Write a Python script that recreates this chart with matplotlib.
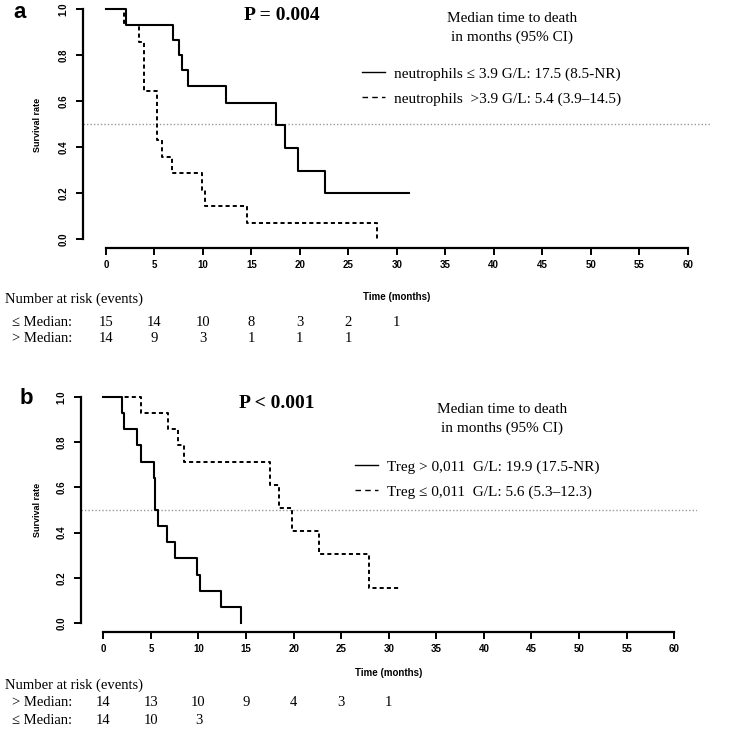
import matplotlib
matplotlib.use("Agg")
import matplotlib.pyplot as plt
from matplotlib.lines import Line2D
from matplotlib.transforms import blended_transform_factory

W, H = 750, 741

# ---- data ----
# panel a: neutrophils
a_low_t = [0, 2.1, 6.9, 7.5, 7.8, 8.5, 12.4, 17.5, 18.5, 19.8, 22.6, 31.3]
a_low_s = [1.0, 0.933, 0.867, 0.8, 0.733, 0.667, 0.593, 0.494, 0.395, 0.296, 0.198, 0.198]
a_high_t = [0, 1.9, 3.4, 3.9, 5.3, 5.8, 6.8, 9.9, 10.2, 14.5, 28.0]
a_high_s = [1.0, 0.929, 0.857, 0.643, 0.429, 0.357, 0.286, 0.214, 0.143, 0.071, 0.0]

# panel b: Treg
b_high_t = [0, 1.93, 2.17, 3.5, 3.92, 5.32, 5.43, 5.78, 6.65, 7.53, 9.88, 10.2, 12.4, 14.5]
b_high_s = [1.0, 0.929, 0.857, 0.786, 0.714, 0.643, 0.5, 0.429, 0.357, 0.286, 0.214, 0.143, 0.071, 0.0]
b_low_t = [0, 3.92, 6.83, 7.88, 8.48, 17.5, 18.5, 19.86, 22.66, 27.95, 31.3]
b_low_s = [1.0, 0.929, 0.857, 0.786, 0.714, 0.612, 0.51, 0.408, 0.306, 0.153, 0.153]

risk_times = [0, 5, 10, 15, 20, 25, 30]
a_risk_low = [15, 14, 10, 8, 3, 2, 1]
a_risk_high = [14, 9, 3, 1, 1, 1]
b_risk_high = [14, 13, 10, 9, 4, 3, 1]
b_risk_low = [14, 10, 3]

x_ticks = list(range(0, 61, 5))
y_ticks = [0.0, 0.2, 0.4, 0.6, 0.8, 1.0]

SERIF = ["Liberation Serif", "DejaVu Serif"]
SANS = ["Liberation Sans", "DejaVu Sans"]
DASH = (0, (2.1, 1.6))


def fx(x):
    return x / W


def fy(y):
    return 1 - y / H


def style_axes(ax):
    ax.set_xlim(-2.4, 62.4)
    ax.set_ylim(-0.04, 1.04)
    for s in ["top", "right"]:
        ax.spines[s].set_visible(False)
    ax.spines["left"].set_bounds(0, 1)
    ax.spines["bottom"].set_bounds(0, 60)
    for s in ["left", "bottom"]:
        ax.spines[s].set_linewidth(1.6)
    ax.set_xticks(x_ticks)
    ax.set_yticks(y_ticks)
    ax.set_yticklabels([f"{v:.1f}" for v in y_ticks], rotation=90, va="center")
    ax.tick_params(width=1.4, length=5, labelsize=7)
    ax.tick_params(axis="y", pad=5)
    for lab in ax.get_xticklabels() + ax.get_yticklabels():
        lab.set_fontweight("bold")
        lab.set_family(SANS)
    ax.axhline(0.5, color="#999999", lw=1, ls=(0, (1, 1.5)))


fig = plt.figure(figsize=(7.5, 7.41), dpi=100)

ax_a = fig.add_axes([fx(82.7), fy(248), (711 - 82.7) / W, 248 / H])
ax_b = fig.add_axes([fx(80.5), fy(632), (697 - 80.5) / W, (632 - 388) / H])

for ax in (ax_a, ax_b):
    style_axes(ax)

ax_a.step(a_low_t, a_low_s, where="post", color="k", lw=1.5)
ax_a.step(a_high_t, a_high_s, where="post", color="k", lw=1.4, ls=DASH)
ax_b.step(b_high_t, b_high_s, where="post", color="k", lw=1.5)
ax_b.step(b_low_t, b_low_s, where="post", color="k", lw=1.4, ls=DASH)

# axis labels
fig.text(fx(38), fy(125), "Survival rate", rotation=90, ha="center", va="center",
         fontsize=6.5, fontweight="bold", family=SANS)
fig.text(fx(38), fy(510), "Survival rate", rotation=90, ha="center", va="center",
         fontsize=6.5, fontweight="bold", family=SANS)
fig.text(fx(397), fy(297), "Time (months)", ha="center", va="center",
         fontsize=7, fontweight="bold", family=SANS)
fig.text(fx(389), fy(673), "Time (months)", ha="center", va="center",
         fontsize=7, fontweight="bold", family=SANS)

# panel letters and p-values
fig.text(fx(20), fy(13), "a", ha="center", va="center", fontsize=16, fontweight="bold", family=SANS)
fig.text(fx(26), fy(398), "b", ha="center", va="center", fontsize=16, fontweight="bold", family=SANS)
fig.text(fx(282), fy(15), "P = 0.004", ha="center", va="center", fontsize=14, fontweight="bold", family=SERIF)
fig.text(fx(277), fy(403), "P < 0.001", ha="center", va="center", fontsize=14, fontweight="bold", family=SERIF)

# legend titles
fig.text(fx(512), fy(28), "Median time to death\nin months (95% CI)", ha="center", va="center",
         fontsize=11, family=SERIF, linespacing=1.6)
fig.text(fx(502), fy(419), "Median time to death\nin months (95% CI)", ha="center", va="center",
         fontsize=11, family=SERIF, linespacing=1.6)

# legends
solid_h = Line2D([], [], color="k", lw=1)
dash_h = Line2D([], [], color="k", lw=1, ls=(0, (4, 3)))
leg_kw = dict(frameon=False, prop={"family": SERIF, "size": 11}, handlelength=1.5,
              handletextpad=0.6, labelspacing=0.72, borderpad=0, borderaxespad=0,
              loc="upper left")
ax_a.legend([solid_h, dash_h],
            ["neutrophils \u2264 3.9 G/L: 17.5 (8.5-NR)",
             "neutrophils  >3.9 G/L: 5.4 (3.9\u201314.5)"],
            bbox_to_anchor=(fx(362), fy(67)), bbox_transform=fig.transFigure, **leg_kw)
ax_b.legend([solid_h, dash_h],
            ["Treg > 0,011  G/L: 19.9 (17.5-NR)",
             "Treg \u2264 0,011  G/L: 5.6 (5.3\u201312.3)"],
            bbox_to_anchor=(fx(355), fy(460)), bbox_transform=fig.transFigure, **leg_kw)


# number at risk tables
def risk_table(ax, y_title, rows):
    tr = blended_transform_factory(ax.transData, fig.transFigure)
    fig.text(fx(5), fy(y_title), "Number at risk (events)", ha="left", va="center",
             fontsize=10.5, family=SERIF)
    for (label, vals, y) in rows:
        fig.text(fx(12), fy(y), label, ha="left", va="center", fontsize=10.5, family=SERIF)
        for t, v in zip(risk_times, vals):
            ax.text(t, fy(y), str(v), transform=tr, ha="center", va="center",
                    fontsize=10.5, family=SERIF)


risk_table(ax_a, 299, [("\u2264 Median:", a_risk_low, 322), ("> Median:", a_risk_high, 338)])
risk_table(ax_b, 685, [("> Median:", b_risk_high, 703), ("\u2264 Median:", b_risk_low, 720)])

fig.savefig("out.png", dpi=100)
